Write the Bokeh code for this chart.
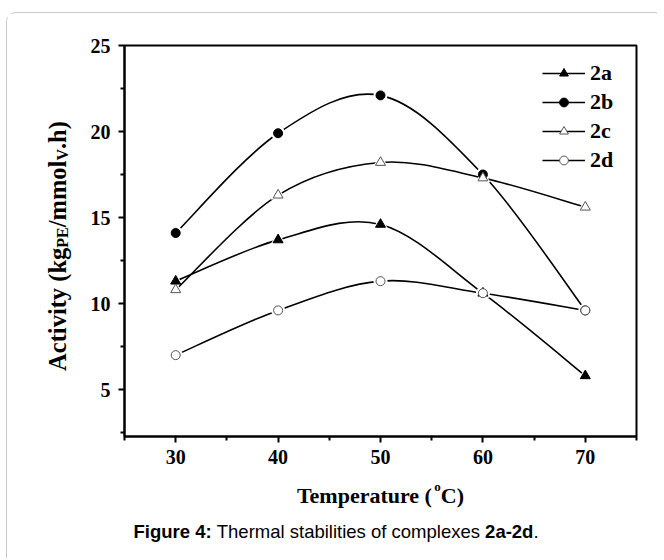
import math
from bokeh.plotting import figure
from bokeh.layouts import column, row
from bokeh.models import (Range1d, FixedTicker, Legend, LegendItem, Label,
                          ColumnDataSource, InlineStyleSheet)
from bokeh.embed import file_html
from bokeh.resources import INLINE

# ---------------- data ----------------
temperature = [30, 40, 50, 60, 70]
act_2a = [11.3, 13.7, 14.6, 10.6, 5.8]
act_2b = [14.1, 19.9, 22.1, 17.5, 9.6]
act_2c = [10.8, 16.3, 18.2, 17.3, 15.6]
act_2d = [7.0, 9.6, 11.3, 10.6, 9.6]
series_names = ["2a", "2b", "2c", "2d"]
x_ticks = [30, 40, 50, 60, 70]
x_minor = [25, 35, 45, 55, 65, 75]
y_ticks = [5, 10, 15, 20, 25]
y_minor = [2.5, 7.5, 12.5, 17.5, 22.5]

# ---------------- layout geometry (px) ----------------
YL_W = 80                # strip holding the rotated y-axis title
MAIN_W, MAIN_H = 570, 457
FL, FT, FW, FH = 37, 32, 512, 391
BOT_W, BOT_H = 650, 88   # strip holding x-axis title and caption

p = figure(width=MAIN_W, height=MAIN_H, output_backend="svg", toolbar_location=None,
           x_range=Range1d(25, 75), y_range=Range1d(2.27, 25),
           min_border_left=FL, min_border_top=FT,
           min_border_right=MAIN_W - FL - FW, min_border_bottom=MAIN_H - FT - FH,
           background_fill_color="white", border_fill_color="white")
p.grid.visible = False
p.outline_line_color = "black"
p.outline_line_width = 2

p.xaxis.ticker = FixedTicker(ticks=x_ticks, minor_ticks=x_minor)
p.yaxis.ticker = FixedTicker(ticks=y_ticks, minor_ticks=y_minor)
for ax in (p.xaxis, p.yaxis):
    ax.axis_line_width = 2
    ax.major_tick_line_width = 2
    ax.minor_tick_line_width = 2
    ax.major_tick_out = 6
    ax.major_tick_in = 0
    ax.minor_tick_out = 4
    ax.minor_tick_in = 0
    ax.major_label_text_font = "Liberation Serif"
    ax.major_label_text_font_style = "bold"
    ax.major_label_text_font_size = "20px"
    ax.major_label_text_color = "black"
p.xaxis.major_label_standoff = 7
p.yaxis.major_label_standoff = 8


def smooth_segments(xs, ys):
    """Bezier control points (Catmull-Rom) for a smooth curve through the data."""
    n = len(xs)
    d = dict(x0=[], y0=[], x1=[], y1=[], cx0=[], cy0=[], cx1=[], cy1=[])
    for i in range(n - 1):
        a, b = max(i - 1, 0), min(i + 2, n - 1)
        d["x0"].append(xs[i]); d["y0"].append(ys[i])
        d["x1"].append(xs[i + 1]); d["y1"].append(ys[i + 1])
        d["cx0"].append(xs[i] + (xs[i + 1] - xs[a]) / 6)
        d["cy0"].append(ys[i] + (ys[i + 1] - ys[a]) / 6)
        d["cx1"].append(xs[i + 1] - (xs[b] - xs[i]) / 6)
        d["cy1"].append(ys[i + 1] - (ys[b] - ys[i]) / 6)
    return ColumnDataSource(d)


styles = [
    ("triangle", "black", "black", 10),
    ("circle", "black", "black", 9),
    ("triangle", "white", "#555555", 10),
    ("circle", "white", "#555555", 9),
]
all_series = [act_2a, act_2b, act_2c, act_2d]

# curves, each followed by a white halo around its own points (gap at the symbols)
leg_lines = []
for ys, (mk, fill, edge, sz) in zip(all_series, styles):
    p.bezier(x0="x0", y0="y0", x1="x1", y1="y1", cx0="cx0", cy0="cy0",
             cx1="cx1", cy1="cy1", source=smooth_segments(temperature, ys),
             line_color="black", line_width=1.6)
    p.scatter(x=temperature, y=ys, marker=mk, size=sz + 5, fill_color="white",
              line_color=None)
    # one-point line: draws nothing in the plot, only provides the legend's line
    leg_lines.append(p.line(x=temperature[:1], y=ys[:1], line_color="black",
                            line_width=1.6))

items = []
for name, ys, (mk, fill, edge, sz), ll in zip(series_names, all_series, styles, leg_lines):
    sc = p.scatter(x=temperature, y=ys, marker=mk, size=sz, fill_color=fill,
                   line_color=edge, line_width=1)
    items.append(LegendItem(label=name, renderers=[ll, sc]))

legend = Legend(items=items, location=(418, 263), margin=0, padding=0,
                border_line_alpha=0, background_fill_alpha=0,
                glyph_width=43, glyph_height=22, label_height=26,
                label_standoff=5, spacing=3,
                label_text_font="Liberation Serif", label_text_font_style="bold",
                label_text_font_size="22px", label_text_color="black")
p.add_layout(legend)


def blank(w, h):
    f = figure(width=w, height=h, output_backend="svg", toolbar_location=None,
               x_axis_type=None, y_axis_type=None, min_border=0,
               x_range=Range1d(0, 1), y_range=Range1d(0, 1),
               outline_line_color=None, background_fill_color="white",
               border_fill_color="white")
    return f


TIMES_BOLD = {'A': 722, 'c': 444, 't': 333, 'i': 278, 'v': 500, 'y': 500, ' ': 250,
              '(': 333, 'k': 556, 'g': 500, 'P': 611, 'E': 667, '/': 278, 'm': 833,
              'o': 500, 'l': 278, 'V': 722, '.': 250, 'h': 556, ')': 333, 'T': 667,
              'e': 444, 'p': 556, 'r': 444, 'a': 500, 'u': 556, 'C': 722}


def tw(s, size):
    return sum(TIMES_BOLD.get(ch, 500) for ch in s) * size / 1000.0


def put(fig, text, sx, sy, size, font="Liberation Serif", style="bold", angle=0.0):
    fig.add_layout(Label(x=sx, y=sy, x_units="screen", y_units="screen",
                         text=text, text_font=font, text_font_style=style,
                         text_font_size=f"{size}px", text_color="black", angle=angle,
                         text_align="left", text_baseline="alphabetic"))


# ---- y-axis title (rotated, with subscripts) ----
ylab = blank(YL_W, MAIN_H)
main_sz, sub_sz = 24.5, 16
y_parts = [("Activity (kg", main_sz, 0), ("PE", sub_sz, 5), ("/mmol", main_sz, 0),
           ("V", sub_sz, 5), (".h)", main_sz, 0)]
total = sum(tw(t, s) for t, s, _ in y_parts)
centre_y = MAIN_H - FT - FH / 2 - 3          # frame centre, measured from bottom
pos = centre_y - total / 2 - 36
for t, s, shift in y_parts:
    put(ylab, t, 50 + shift, pos, s, angle=math.pi / 2)
    pos += tw(t, s)

# ---- x-axis title (with superscript) and caption ----
bot = blank(BOT_W, BOT_H)
x_parts = [("Temperature (", 22, 0), ("o", 13, 9), ("C)", 22, 0)]
total = sum(tw(t, s) for t, s, _ in x_parts)
pos = YL_W + FL + FW / 2 - total / 2
for t, s, shift in x_parts:
    put(bot, t, pos, 63 + shift, s)
    pos += tw(t, s)

ARIAL = 18.5
SPACE = 278
cap_parts = [("Figure 4:", "bold", 4223), ("Thermal stabilities of complexes", "normal", 14226),
             ("2a-2d", "bold", 2612), (".", "normal", 278)]
gaps = [SPACE, SPACE, 0, 0]
pos = 126
for (t, st, w), g in zip(cap_parts, gaps):
    put(bot, t, pos, 27, ARIAL, font="Liberation Sans", style=st)
    pos += (w + g) * ARIAL / 1000.0

layout = column(row(ylab, p), bot)
layout.stylesheets.append(InlineStyleSheet(css=":host { margin: 12px 0 0 6px; border-left: 1px solid #c8c8c8; border-top: 1px solid #c8c8c8; border-top-left-radius: 10px; }"))

open("out.html", "w").write(file_html(layout, INLINE))
